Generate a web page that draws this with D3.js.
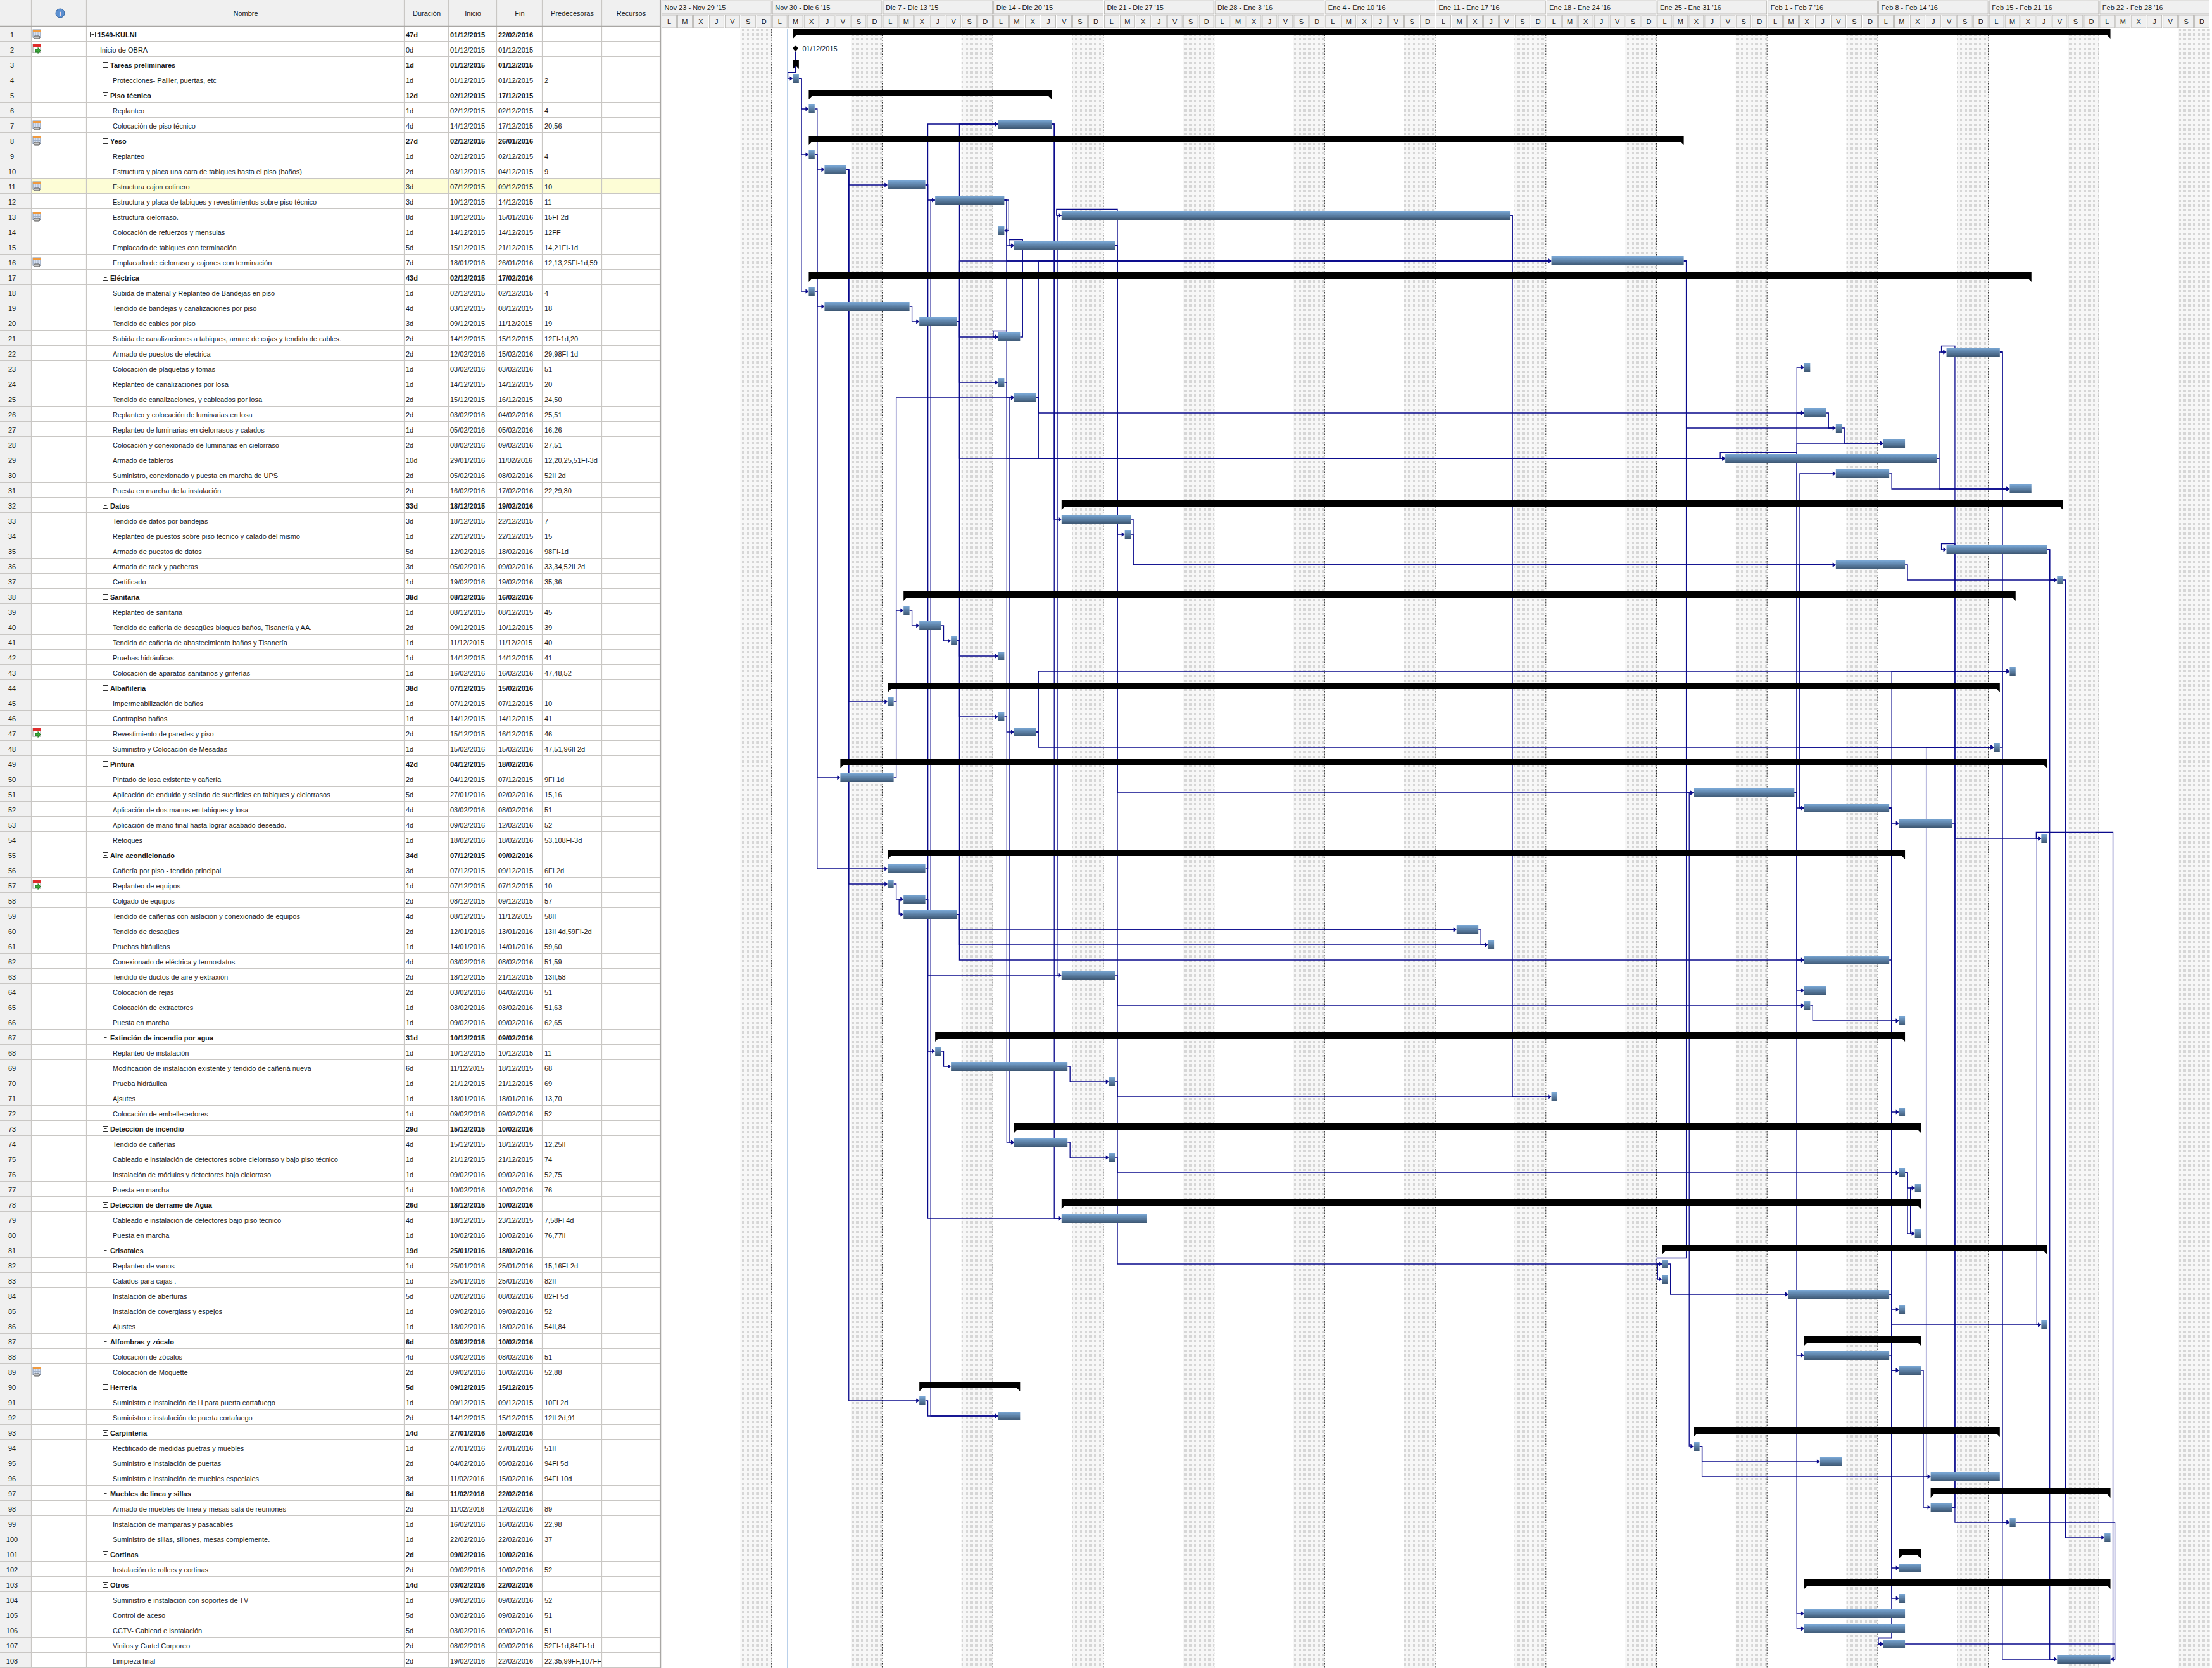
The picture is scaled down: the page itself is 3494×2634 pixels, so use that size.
<!DOCTYPE html>
<html>
<head>
<meta charset="utf-8">
<script src="https://cdn.jsdelivr.net/npm/d3@7"></script>
<style>
  body { margin: 0; background: #fff; }
  text { font-family: "Liberation Sans", Arial, sans-serif; font-size: 11px; fill: #1a1a1a; }
</style>
</head>
<body>
<svg id="chart"></svg>
<script>
const names = [
  "1549-KULNI", "Inicio de OBRA", "Tareas preliminares", "Protecciones- Pallier, puertas, etc", "Piso técnico",
  "Replanteo", "Colocación de piso técnico", "Yeso", "Replanteo", "Estructura y placa una cara de tabiques hasta el piso (baños)",
  "Estructura cajon cotinero", "Estructura y placa de tabiques y revestimientos sobre piso técnico", "Estructura cielorraso.", "Colocación de refuerzos y mensulas", "Emplacado de tabiques con terminación",
  "Emplacado de cielorraso y cajones con terminación", "Eléctrica", "Subida de material y Replanteo de Bandejas en piso", "Tendido de bandejas y canalizaciones por piso", "Tendido de cables por piso",
  "Subida de canalizaciones a tabiques, amure de cajas y tendido de cables.", "Armado de puestos de electrica", "Colocación de plaquetas y tomas", "Replanteo de canalizaciones por losa", "Tendido de canalizaciones, y cableados por losa",
  "Replanteo y colocación de luminarias en losa", "Replanteo de luminarias en cielorrasos y calados", "Colocación y conexionado de luminarias en cielorraso", "Armado de tableros", "Suministro, conexionado y puesta en marcha de UPS",
  "Puesta en marcha de la instalación", "Datos", "Tendido de datos por bandejas", "Replanteo de puestos sobre piso técnico y calado del mismo", "Armado de puestos de datos",
  "Armado de rack y pacheras", "Certificado", "Sanitaria", "Replanteo de sanitaria", "Tendido de cañería de desagües bloques baños, Tisanería y AA.",
  "Tendido de cañería de abastecimiento baños y Tisanería", "Pruebas hidráulicas", "Colocación de aparatos sanitarios y griferías", "Albañilería", "Impermeabilización de baños",
  "Contrapiso baños", "Revestimiento de paredes y piso", "Suministro y Colocación de Mesadas", "Pintura", "Pintado de losa existente y cañería",
  "Aplicación de enduido y sellado de suerficies en tabiques y cielorrasos", "Aplicación de dos manos en tabiques y losa", "Aplicación de mano final hasta lograr acabado deseado.", "Retoques", "Aire acondicionado",
  "Cañería por piso - tendido principal", "Replanteo de equipos", "Colgado de equipos", "Tendido de cañerias con aislación y conexionado de equipos", "Tendido de desagües",
  "Pruebas hiráulicas", "Conexionado de eléctrica y termostatos", "Tendido de ductos de aire y extraxión", "Colocación de rejas", "Colocación de extractores",
  "Puesta en marcha", "Extinción de incendio por agua", "Replanteo de instalación", "Modificación de instalación existente y tendido de cañeriá nueva", "Prueba hidráulica",
  "Ajsutes", "Colocación de embellecedores", "Detección de incendio", "Tendido de cañerías", "Cableado e instalación de detectores sobre cielorraso y bajo piso técnico",
  "Instalación de módulos y detectores bajo cielorraso", "Puesta en marcha", "Detección de derrame de Agua", "Cableado e instalación de detectores bajo piso técnico", "Puesta en marcha",
  "Crisatales", "Replanteo de vanos", "Calados para cajas .", "Instalación de aberturas", "Instalación de coverglass y espejos",
  "Ajustes", "Alfombras y zócalo", "Colocación de zócalos", "Colocación de Moquette", "Herreria",
  "Suministro e instalación de H para puerta cortafuego", "Suministro e instalación de puerta cortafuego", "Carpintería", "Rectificado de medidas puetras y muebles", "Suministro e instalación de puertas",
  "Suministro e instalación de muebles especiales", "Muebles de linea y sillas", "Armado de muebles de linea y mesas sala de reuniones", "Instalación de mamparas y pasacables", "Suministro de sillas, sillones, mesas complemente.",
  "Cortinas", "Instalación de rollers y cortinas", "Otros", "Suministro e instalación con soportes de TV", "Control de aceso",
  "CCTV- Cablead e isntalación", "Vinilos y Cartel Corporeo", "Limpieza final"
]

const levels = [
  1,2,2,3,2, 3,3,2,3,3, 3,3,3,3,3, 3,2,3,3,3,
  3,3,3,3,3, 3,3,3,3,3, 3,2,3,3,3, 3,3,2,3,3,
  3,3,3,2,3, 3,3,3,2,3, 3,3,3,3,2, 3,3,3,3,3,
  3,3,3,3,3, 3,2,3,3,3, 3,3,2,3,3, 3,3,2,3,3,
  2,3,3,3,3, 3,2,3,3,2, 3,3,2,3,3, 3,2,3,3,3,
  2,3,2,3,3, 3,3,3
]

const durations = [
  "47d","0d","1d","1d","12d", "1d","4d","27d","1d","2d",
  "3d","3d","8d","1d","5d", "7d","43d","1d","4d","3d",
  "2d","2d","1d","1d","2d", "2d","1d","2d","10d","2d",
  "2d","33d","3d","1d","5d", "3d","1d","38d","1d","2d",
  "1d","1d","1d","38d","1d", "1d","2d","1d","42d","2d",
  "5d","4d","4d","1d","34d", "3d","1d","2d","4d","2d",
  "1d","4d","2d","2d","1d", "1d","31d","1d","6d","1d",
  "1d","1d","29d","4d","1d", "1d","1d","26d","4d","1d",
  "19d","1d","1d","5d","1d", "1d","6d","4d","2d","5d",
  "1d","2d","14d","1d","2d", "3d","8d","2d","1d","1d",
  "2d","2d","14d","1d","5d", "5d","2d","2d"
]

const starts = [
  "01/12/2015","01/12/2015","01/12/2015","01/12/2015","02/12/2015", "02/12/2015","14/12/2015","02/12/2015","02/12/2015","03/12/2015",
  "07/12/2015","10/12/2015","18/12/2015","14/12/2015","15/12/2015", "18/01/2016","02/12/2015","02/12/2015","03/12/2015","09/12/2015",
  "14/12/2015","12/02/2016","03/02/2016","14/12/2015","15/12/2015", "03/02/2016","05/02/2016","08/02/2016","29/01/2016","05/02/2016",
  "16/02/2016","18/12/2015","18/12/2015","22/12/2015","12/02/2016", "05/02/2016","19/02/2016","08/12/2015","08/12/2015","09/12/2015",
  "11/12/2015","14/12/2015","16/02/2016","07/12/2015","07/12/2015", "14/12/2015","15/12/2015","15/02/2016","04/12/2015","04/12/2015",
  "27/01/2016","03/02/2016","09/02/2016","18/02/2016","07/12/2015", "07/12/2015","07/12/2015","08/12/2015","08/12/2015","12/01/2016",
  "14/01/2016","03/02/2016","18/12/2015","03/02/2016","03/02/2016", "09/02/2016","10/12/2015","10/12/2015","11/12/2015","21/12/2015",
  "18/01/2016","09/02/2016","15/12/2015","15/12/2015","21/12/2015", "09/02/2016","10/02/2016","18/12/2015","18/12/2015","10/02/2016",
  "25/01/2016","25/01/2016","25/01/2016","02/02/2016","09/02/2016", "18/02/2016","03/02/2016","03/02/2016","09/02/2016","09/12/2015",
  "09/12/2015","14/12/2015","27/01/2016","27/01/2016","04/02/2016", "11/02/2016","11/02/2016","11/02/2016","16/02/2016","22/02/2016",
  "09/02/2016","09/02/2016","03/02/2016","09/02/2016","03/02/2016", "03/02/2016","08/02/2016","19/02/2016"
]

const finishes = [
  "22/02/2016","01/12/2015","01/12/2015","01/12/2015","17/12/2015", "02/12/2015","17/12/2015","26/01/2016","02/12/2015","04/12/2015",
  "09/12/2015","14/12/2015","15/01/2016","14/12/2015","21/12/2015", "26/01/2016","17/02/2016","02/12/2015","08/12/2015","11/12/2015",
  "15/12/2015","15/02/2016","03/02/2016","14/12/2015","16/12/2015", "04/02/2016","05/02/2016","09/02/2016","11/02/2016","08/02/2016",
  "17/02/2016","19/02/2016","22/12/2015","22/12/2015","18/02/2016", "09/02/2016","19/02/2016","16/02/2016","08/12/2015","10/12/2015",
  "11/12/2015","14/12/2015","16/02/2016","15/02/2016","07/12/2015", "14/12/2015","16/12/2015","15/02/2016","18/02/2016","07/12/2015",
  "02/02/2016","08/02/2016","12/02/2016","18/02/2016","09/02/2016", "09/12/2015","07/12/2015","09/12/2015","11/12/2015","13/01/2016",
  "14/01/2016","08/02/2016","21/12/2015","04/02/2016","03/02/2016", "09/02/2016","09/02/2016","10/12/2015","18/12/2015","21/12/2015",
  "18/01/2016","09/02/2016","10/02/2016","18/12/2015","21/12/2015", "09/02/2016","10/02/2016","10/02/2016","23/12/2015","10/02/2016",
  "18/02/2016","25/01/2016","25/01/2016","08/02/2016","09/02/2016", "18/02/2016","10/02/2016","08/02/2016","10/02/2016","15/12/2015",
  "09/12/2015","15/12/2015","15/02/2016","27/01/2016","05/02/2016", "15/02/2016","22/02/2016","12/02/2016","16/02/2016","22/02/2016",
  "10/02/2016","10/02/2016","22/02/2016","09/02/2016","09/02/2016", "09/02/2016","09/02/2016","22/02/2016"
]

const preds = [
  "","","","2","", "4","20,56","","4","9",
  "10","11","15FI-2d","12FF","14,21FI-1d", "12,13,25FI-1d,59","","4","18","19",
  "12FI-1d,20","29,98FI-1d","51","20","24,50", "25,51","16,26","27,51","12,20,25,51FI-3d","52II 2d",
  "22,29,30","","7","15","98FI-1d", "33,34,52II 2d","35,36","","45","39",
  "40","41","47,48,52","","10", "41","46","47,51,96II 2d","","9FI 1d",
  "15,16","51","52","53,108FI-3d","", "6FI 2d","10","57","58II","13II 4d,59FI-2d",
  "59,60","51,59","13II,58","51","51,63", "62,65","","11","68","69",
  "13,70","52","","12,25II","74", "52,75","76","","7,58FI 4d","76,77II",
  "","15,16FI-2d","82II","82FI 5d","52", "54II,84","","51","52,88","",
  "10FI 2d","12II 2d,91","","51II","94FI 5d", "94FI 10d","","89","22,98","37",
  "","52","","52","51", "51","52FI-1d,84FI-1d","22,35,99FF,107FF"
]

const planIconRows = [1, 7, 8, 11, 13, 16, 89]
const dateIconRows = [2, 47, 57]
const selectedRow = 11

const weekLabels = [
  "Nov 23 - Nov 29 '15", "Nov 30 - Dic 6 '15", "Dic 7 - Dic 13 '15", "Dic 14 - Dic 20 '15", "Dic 21 - Dic 27 '15",
  "Dic 28 - Ene 3 '16", "Ene 4 - Ene 10 '16", "Ene 11 - Ene 17 '16", "Ene 18 - Ene 24 '16", "Ene 25 - Ene 31 '16",
  "Feb 1 - Feb 7 '16", "Feb 8 - Feb 14 '16", "Feb 15 - Feb 21 '16", "Feb 22 - Feb 28 '16"
]
const dayLetters = ["L", "M", "X", "J", "V", "S", "D"]

const headers = ["", "", "Nombre", "Duración", "Inicio", "Fin", "Predecesoras", "Recursos"]

// ---- layout ----
const W = 3494, H = 2634
const headH = 42, rowH = 24
const colEdges = [0, 50, 137, 639, 709, 785, 857, 951, 1043]
const HOUR = 3600e3
const LINK = "#0a0a8c"

const svg = d3.select("#chart").attr("width", W).attr("height", H)
const defs = svg.append("defs")

let grad = defs.append("linearGradient").attr("id", "bar").attr("x1", 0).attr("y1", 0).attr("x2", 0).attr("y2", 1)
grad.append("stop").attr("offset", "0%").attr("stop-color", "#7aa8d6")
grad.append("stop").attr("offset", "100%").attr("stop-color", "#3d5773")

let pat = defs.append("pattern").attr("id", "wknd").attr("width", 2).attr("height", 2).attr("patternUnits", "userSpaceOnUse")
pat.append("rect").attr("width", 2).attr("height", 2).attr("fill", "#f7f7f7")
pat.append("rect").attr("width", 1).attr("height", 1).attr("fill", "#d6d6d6")

defs.append("clipPath").attr("id", "clipPred").append("rect")
  .attr("x", colEdges[6]).attr("y", 0).attr("width", colEdges[7] - colEdges[6] - 1).attr("height", H)

const parse = d3.utcParse("%d/%m/%Y")
const t0 = new Date(Date.UTC(2015, 10, 23)), t1 = new Date(Date.UTC(2016, 1, 29))
const x = d3.scaleUtc().domain([t0, t1]).range([1044.5, 1044.5 + 98 * 24.96])

const tasks = names.map((n, i) => {
  let s = parse(starts[i]), f = parse(finishes[i])
  let top = headH + i * rowH
  let t = {
    i, name: n, top,
    level: levels[i],
    isSum: i < names.length - 1 && levels[i + 1] > levels[i],
    isMile: durations[i] === "0d",
    x1: x(new Date(+s + 8 * HOUR)),
    x2: x(new Date(+f + 17 * HOUR)),
    ym: top + 10
  }
  if (t.isMile) { t.cx = t.x1 + 4; t.ym = top + 10.5 }
  return t
})

// ---- table ----
let table = svg.append("g")

table.append("rect").attr("x", 0).attr("y", 0).attr("width", colEdges[8]).attr("height", headH).attr("fill", "#f0f0f0")
table.append("rect").attr("x", 0).attr("y", headH).attr("width", colEdges[1]).attr("height", H - headH).attr("fill", "#f0f0f0")
table.append("rect").attr("x", colEdges[1] + 1).attr("y", headH + (selectedRow - 1) * rowH + 1)
  .attr("width", colEdges[8] - colEdges[1] - 1).attr("height", rowH - 1).attr("fill", "#fdfdd6")

table.selectAll(".hline").data(tasks).enter().append("line")
  .attr("x1", 0).attr("x2", colEdges[8])
  .attr("y1", d => d.top + rowH - 0.5).attr("y2", d => d.top + rowH - 0.5)
  .attr("stroke", "#c9c7c4").attr("stroke-width", 1.2)

table.selectAll(".vline").data(colEdges.slice(1)).enter().append("line")
  .attr("x1", d => d - 0.5).attr("x2", d => d - 0.5).attr("y1", 0).attr("y2", H)
  .attr("stroke", "#c9c7c4").attr("stroke-width", 1.2)

table.append("line").attr("x1", 0).attr("x2", colEdges[8]).attr("y1", headH - 0.5).attr("y2", headH - 0.5)
  .attr("stroke", "#a9a7a4").attr("stroke-width", 1.5)

table.selectAll(".head").data(headers).enter().append("text")
  .attr("x", (d, i) => (colEdges[i] + colEdges[i + 1]) / 2)
  .attr("y", 25).attr("text-anchor", "middle").text(d => d)

// info icon in the indicator header
let info = table.append("g").attr("transform", "translate(95,21)")
info.append("circle").attr("r", 7).attr("fill", "#5b8fd0").attr("stroke", "#2e5f9c")
info.append("text").attr("y", 4).attr("text-anchor", "middle")
  .style("fill", "#fff").style("font-weight", "bold").style("font-size", "10px").text("i")

let rows = table.selectAll(".row").data(tasks).enter().append("g")
  .attr("transform", d => `translate(0,${d.top})`)

rows.append("text").attr("x", 19).attr("y", 17).attr("text-anchor", "middle").text(d => d.i + 1)

// outline toggles
rows.filter(d => d.isSum).each(function (d) {
  let bx = d.level === 1 ? 142.5 : 162.5
  let g = d3.select(this)
  g.append("rect").attr("x", bx).attr("y", 8.5).attr("width", 8).attr("height", 8)
    .attr("fill", "#fff").attr("stroke", "#333")
  g.append("line").attr("x1", bx + 2).attr("x2", bx + 6).attr("y1", 12.5).attr("y2", 12.5).attr("stroke", "#333")
})

const nameX = d => d.isSum ? (d.level === 1 ? 154 : 174) : (d.level === 2 ? 158 : 178)
rows.append("text").attr("x", nameX).attr("y", 17)
  .style("font-weight", d => d.isSum ? "bold" : null).text(d => d.name)
rows.append("text").attr("x", colEdges[3] + 2).attr("y", 17)
  .style("font-weight", d => d.isSum ? "bold" : null).text(d => durations[d.i])
rows.append("text").attr("x", colEdges[4] + 2).attr("y", 17)
  .style("font-weight", d => d.isSum ? "bold" : null).text(d => starts[d.i])
rows.append("text").attr("x", colEdges[5] + 2).attr("y", 17)
  .style("font-weight", d => d.isSum ? "bold" : null).text(d => finishes[d.i])

table.append("g").attr("clip-path", "url(#clipPred)")
  .selectAll("text").data(tasks).enter().append("text")
  .attr("x", colEdges[6] + 3).attr("y", d => d.top + 17).text(d => preds[d.i])

// indicator icons
rows.filter(d => planIconRows.includes(d.i + 1)).each(function () {
  let g = d3.select(this).append("g").attr("transform", "translate(52,5)")
  g.append("rect").attr("width", 12).attr("height", 12).attr("fill", "#d5dff0").attr("stroke", "#7d8ea8")
  g.append("rect").attr("width", 12).attr("height", 3).attr("fill", "#f09a3e")
  g.append("path").attr("d", "M4,3V12M8,3V12M0,6.5H12").attr("stroke", "#9fb0c8").attr("fill", "none")
  g.append("rect").attr("x", 1).attr("y", 10).attr("width", 10).attr("height", 4).attr("rx", 2)
    .attr("fill", "#c8c8c8").attr("stroke", "#555")
})
rows.filter(d => dateIconRows.includes(d.i + 1)).each(function () {
  let g = d3.select(this).append("g").attr("transform", "translate(52,4)")
  g.append("rect").attr("width", 12).attr("height", 13).attr("fill", "#fff").attr("stroke", "#999")
  g.append("rect").attr("width", 12).attr("height", 4).attr("fill", "#e02b2b")
  g.append("path").attr("d", "M4,8H8V5.5L12,10L8,14.5V12H4Z").attr("fill", "#3aa63a").attr("stroke", "#217a21")
})

// ---- timeline header ----
let gantt = svg.append("g")
const days = d3.utcDay.range(t0, t1)
const mondays = d3.utcMonday.range(t0, t1)

gantt.append("rect").attr("x", colEdges[8]).attr("y", 0).attr("width", W - colEdges[8]).attr("height", 46).attr("fill", "#fff")

gantt.selectAll(".wk").data(mondays).enter().append("rect")
  .attr("x", d => x(d) + 1).attr("y", 1)
  .attr("width", d => x(d3.utcDay.offset(d, 7)) - x(d) - 2).attr("height", 21)
  .attr("fill", "#f0f0f0").attr("stroke", "#b4b2ae").attr("stroke-width", 0.8)
gantt.selectAll(".wkl").data(mondays).enter().append("text")
  .attr("x", d => x(d) + 5).attr("y", 15.5).text((d, i) => weekLabels[i])

gantt.selectAll(".dy").data(days).enter().append("rect")
  .attr("x", d => x(d) + 1).attr("y", 24)
  .attr("width", d => x(d3.utcDay.offset(d, 1)) - x(d) - 2).attr("height", 20)
  .attr("fill", "#f0f0f0").attr("stroke", "#b4b2ae").attr("stroke-width", 0.8)
gantt.selectAll(".dyl").data(days).enter().append("text")
  .attr("x", d => (x(d) + x(d3.utcDay.offset(d, 1))) / 2).attr("y", 38)
  .attr("text-anchor", "middle").text(d => dayLetters[(d.getUTCDay() + 6) % 7])

// ---- gantt body ----
let body = gantt.append("g")
body.selectAll(".we").data(days.filter(d => d.getUTCDay() === 0 || d.getUTCDay() === 6)).enter().append("rect")
  .attr("x", d => x(d)).attr("y", 46)
  .attr("width", d => x(d3.utcDay.offset(d, 1)) - x(d)).attr("height", H - 46)
  .attr("fill", "url(#wknd)")

body.selectAll(".wb").data(mondays.slice(1)).enter().append("line")
  .attr("x1", d => x(d) - 0.5).attr("x2", d => x(d) - 0.5).attr("y1", 46).attr("y2", H)
  .attr("stroke", "#222").attr("stroke-width", 1).attr("stroke-dasharray", "1,1.5")

const projStart = x(parse(starts[0]))
body.append("line").attr("x1", projStart).attr("x2", projStart).attr("y1", 46).attr("y2", H)
  .attr("stroke", "#8fb4de").attr("stroke-width", 1.6)

// links
const links = []
preds.forEach((p, i) => {
  if (!p) return
  p.split(",").forEach(tok => {
    let m = tok.trim().match(/^(\d+)(FI|II|FF|IF)?/)
    links.push({ from: +m[1] - 1, to: i, type: m[2] || "FI" })
  })
})

function route(l) {
  let a = tasks[l.from], b = tasks[l.to]
  if (l.type === "II") {
    let ox = Math.min(a.x1, b.x1) - 7
    return { d: `M${a.x1},${a.ym}H${ox}V${b.ym}H${b.x1 - 4}`, tx: b.x1, ty: b.ym, dir: 1 }
  }
  if (l.type === "FF") {
    let ox = Math.max(a.x2, b.x2) + 7
    return { d: `M${a.x2},${a.ym}H${ox}V${b.ym}H${b.x2 + 4}`, tx: b.x2, ty: b.ym, dir: -1 }
  }
  let ox = a.isMile ? a.cx : a.x2 + 4
  let start = a.isMile ? `M${ox},${a.ym + 5}` : `M${a.x2},${a.ym}H${ox}`
  if (b.x1 - ox >= 6) return { d: `${start}V${b.ym}H${b.x1 - 4}`, tx: b.x1, ty: b.ym, dir: 1 }
  return { d: `${start}V${b.top + 0.5}H${b.x1 - 8}V${b.ym}H${b.x1 - 4}`, tx: b.x1, ty: b.ym, dir: 1 }
}

const routes = links.map(route)
body.selectAll(".lk").data(routes).enter().append("path")
  .attr("d", d => d.d).attr("fill", "none").attr("stroke", LINK).attr("stroke-width", 1.3)
body.selectAll(".ar").data(routes).enter().append("path")
  .attr("d", d => `M${d.tx},${d.ty}L${d.tx - 5 * d.dir},${d.ty - 3.5}L${d.tx - 5 * d.dir},${d.ty + 3.5}Z`)
  .attr("fill", LINK)

// bars
body.selectAll(".bar").data(tasks.filter(d => !d.isSum && !d.isMile)).enter().append("rect")
  .attr("x", d => d.x1).attr("y", d => d.top + 3)
  .attr("width", d => d.x2 - d.x1).attr("height", 14)
  .attr("fill", "url(#bar)")

let sums = body.selectAll(".sum").data(tasks.filter(d => d.isSum)).enter().append("g")
sums.append("rect").attr("x", d => d.x1).attr("y", d => d.top + 4)
  .attr("width", d => d.x2 - d.x1).attr("height", 10).attr("fill", "#000")
sums.append("path").attr("fill", "#000")
  .attr("d", d => `M${d.x1},${d.top + 14}h5l-5,5Z M${d.x2},${d.top + 14}h-5l5,5Z`)

let miles = body.selectAll(".mile").data(tasks.filter(d => d.isMile)).enter().append("g")
miles.append("path").attr("fill", "#000")
  .attr("d", d => `M${d.cx},${d.ym - 5}L${d.cx + 4.5},${d.ym}L${d.cx},${d.ym + 5}L${d.cx - 4.5},${d.ym}Z`)
miles.append("text").attr("x", d => d.cx + 11).attr("y", d => d.ym + 4).text(d => starts[d.i])

svg.append("line").attr("x1", colEdges[8] + 0.5).attr("x2", colEdges[8] + 0.5).attr("y1", 0).attr("y2", H)
  .attr("stroke", "#a9a7a4").attr("stroke-width", 1.5)
</script>
</body>
</html>
